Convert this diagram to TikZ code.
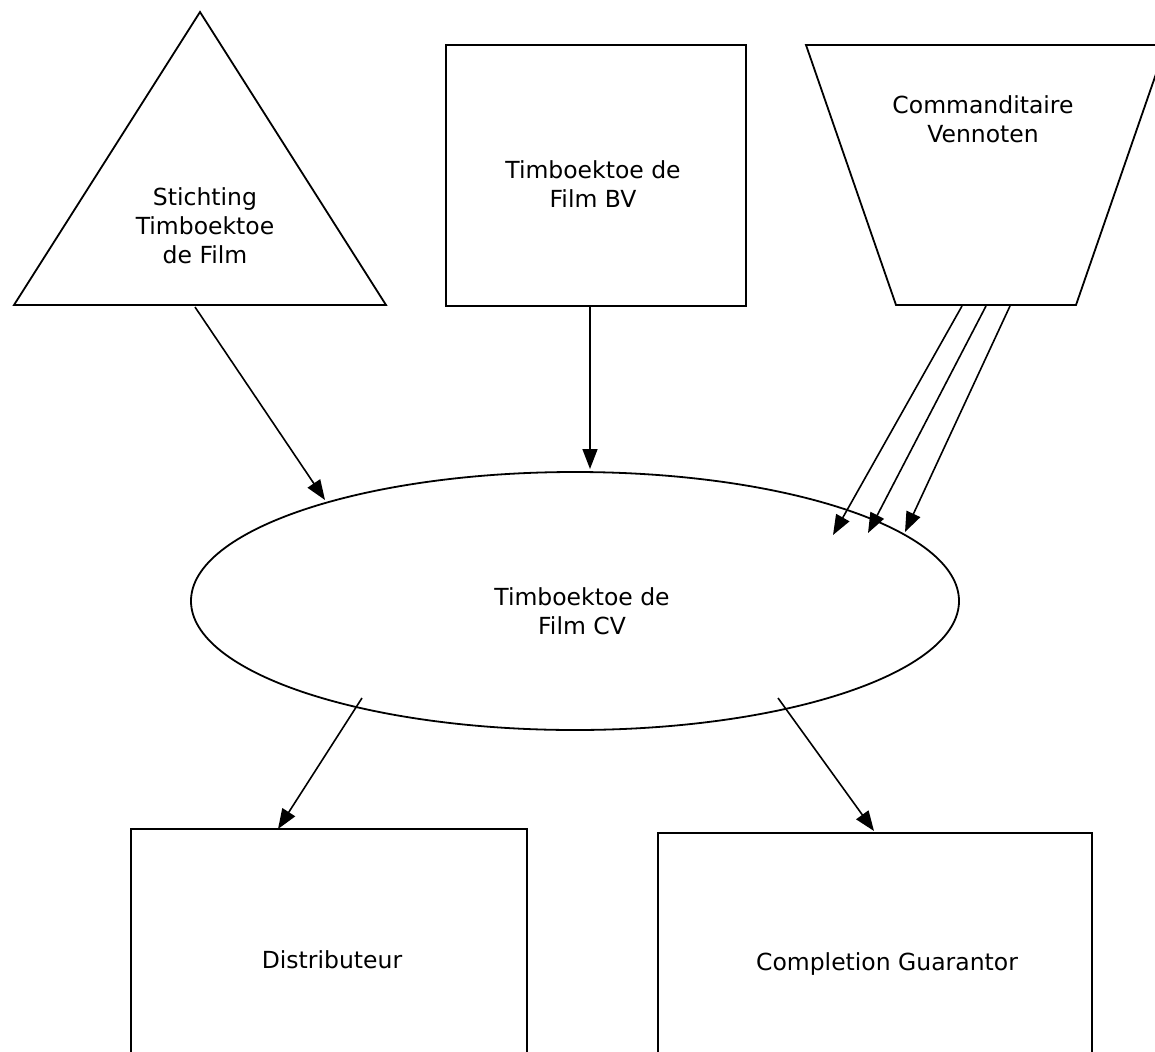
\documentclass[tikz,border=0pt]{standalone}
\usepackage{fontspec}
\setmainfont{DejaVu Sans}
\usetikzlibrary{arrows.meta,shapes.geometric}
\begin{document}
\begin{tikzpicture}[x=1pt,y=-1pt,
  shapeline/.style={draw=black, line width=1.8pt},
  conn/.style={draw=black, line width=1.6pt, -{Triangle[length=20pt,width=15pt]}},
  lbl/.style={font=\fontsize{23.5}{29}\selectfont, align=center, inner sep=0pt},
  boxnode/.style={shapeline, rectangle, inner sep=0pt}]
\useasboundingbox (0,0) rectangle (1155,1051);
\clip (0,0) rectangle (1155,1051);
% triangle
\coordinate (triA) at (200,12);
\coordinate (triB) at (386,305);
\coordinate (triC) at (14,305);
\draw[shapeline] (triA) -- (triB) -- (triC) -- cycle;
\node[lbl] (stichting) at (205,226) {Stichting\\Timboektoe\\de Film};
% BV box
\node[boxnode, minimum width=300pt, minimum height=261pt] (bv) at (596,175.5) {};
\node[lbl] (bvlabel) at (593,184) {Timboektoe de\\Film BV};
% trapezoid
\coordinate (trA) at (806,45);
\coordinate (trB) at (1166,45);
\coordinate (trC) at (1076,305);
\coordinate (trD) at (896,305);
\draw[shapeline] (trA) -- (trB) -- (trC) -- (trD) -- cycle;
\node[lbl] (cv) at (983,119) {Commanditaire\\Vennoten};
% ellipse
\node[shapeline, ellipse, minimum width=768pt, minimum height=258pt, inner sep=0pt] (film) at (575,601) {};
\node[lbl] (filmlabel) at (582,611) {Timboektoe de\\Film CV};
% bottom boxes
\node[boxnode, minimum width=396pt, minimum height=300pt] (dist) at (329,979) {};
\node[lbl] (distlabel) at (332,960) {Distributeur};
\node[boxnode, minimum width=434pt, minimum height=300pt] (comp) at (875,983) {};
\node[lbl] (complabel) at (887,964) {Completion Guarantor};
% connector end points
\coordinate (s1) at (195,307); \coordinate (e1) at (325,500);
\coordinate (s2) at (590,306); \coordinate (e2) at (590,469);
\coordinate (s3) at (962,306); \coordinate (e3) at (833,535);
\coordinate (s4) at (986,306); \coordinate (e4) at (868,533);
\coordinate (s5) at (1010,306); \coordinate (e5) at (905,532);
\coordinate (s6) at (362,698); \coordinate (e6) at (278,829);
\coordinate (s7) at (778,698); \coordinate (e7) at (874,831);
\draw[conn] (s1) -- (e1);
\draw[conn] (s2) -- (e2);
\draw[conn] (s3) -- (e3);
\draw[conn] (s4) -- (e4);
\draw[conn] (s5) -- (e5);
\draw[conn] (s6) -- (e6);
\draw[conn] (s7) -- (e7);
\end{tikzpicture}
\end{document}
